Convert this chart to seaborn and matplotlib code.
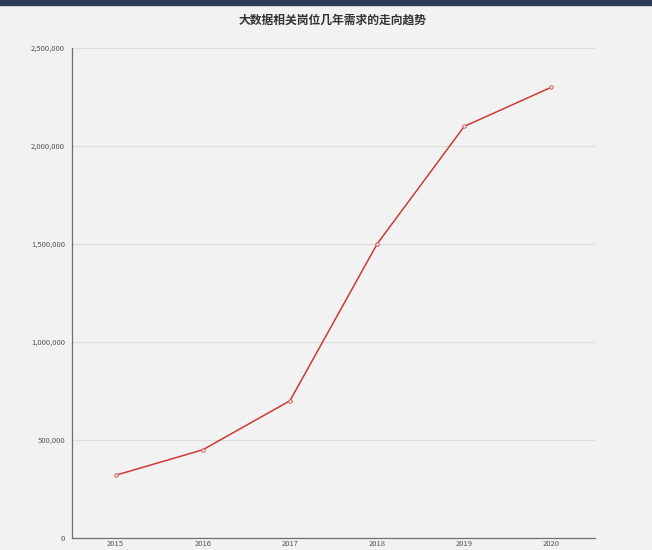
import matplotlib
matplotlib.use('Agg')
import matplotlib.pyplot as plt
import matplotlib.ticker as mticker
from matplotlib.patches import Rectangle
import seaborn as sns
import pandas as pd

# data
years = ['2015', '2016', '2017', '2018', '2019', '2020']
demand = [320000, 450000, 700000, 1500000, 2100000, 2300000]
title = '大数据相关岗位几年需求的走向趋势'

df = pd.DataFrame({'year': years, 'demand': demand})

sns.set_style('white')
plt.rcParams['font.family'] = ['Noto Sans CJK SC', 'DejaVu Sans']

fig = plt.figure(figsize=(6.52, 5.5), dpi=100)
fig.patch.set_facecolor('#f2f2f2')
# dark band at the top of the page
fig.patches.append(Rectangle((0, 1 - 5 / 550), 1, 5 / 550, transform=fig.transFigure,
                             color='#2b3a55', zorder=0))

ax = fig.add_axes([72 / 652, 12 / 550, 523 / 652, 490 / 550])
ax.set_facecolor('#f2f2f2')

sns.lineplot(data=df, x='year', y='demand', ax=ax, color='#cc3b38', linewidth=1.1,
             marker='o', markersize=2.5, markerfacecolor='#f2f2f2',
             markeredgecolor='#d05a58', markeredgewidth=0.7)

ax.set_xlim(-0.5, len(years) - 0.5)
ax.set_ylim(0, 2500000)
ax.yaxis.set_major_locator(mticker.MultipleLocator(500000))
ax.yaxis.set_major_formatter(mticker.FuncFormatter(lambda v, p: f'{int(v):,}'))
ax.grid(axis='y', color='#dcdcdc', linewidth=0.8)
ax.set_axisbelow(True)

# category labels centred, tick marks on band boundaries
ax.set_xticks(range(len(years)))
ax.set_xticklabels(years)
ax.set_xticks([i - 0.5 for i in range(len(years) + 1)], minor=True)
ax.tick_params(axis='x', which='major', length=0, pad=1.5, labelsize=5.5, colors='#555555')
ax.tick_params(axis='x', which='minor', length=3, color='#6e7079', width=0.8)
ax.tick_params(axis='y', length=3, color='#6e7079', width=0.8, labelsize=5.5,
               labelcolor='#555555', pad=2)

for s in ['top', 'right']:
    ax.spines[s].set_visible(False)
for s in ['left', 'bottom']:
    ax.spines[s].set_color('#6e7079')
    ax.spines[s].set_linewidth(0.9)

ax.set_xlabel('')
ax.set_ylabel('')

fig.text(333 / 652, 1 - 20 / 550, title, ha='center', va='center', fontsize=8.5,
         fontweight='bold', color='#333333')

fig.savefig('out.png', dpi=100, facecolor=fig.get_facecolor())
